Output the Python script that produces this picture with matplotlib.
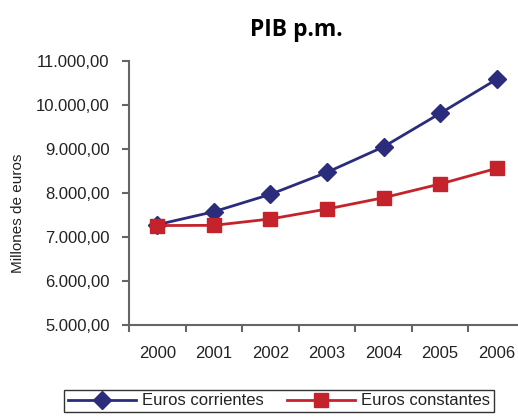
import matplotlib.pyplot as plt
import numpy as np

years = ['2000', '2001', '2002', '2003', '2004', '2005', '2006']
corrientes = [7280, 7575, 7970, 8470, 9050, 9810, 10585]
constantes = [7260, 7265, 7410, 7636, 7893, 8205, 8560]
yticks = [5000, 6000, 7000, 8000, 9000, 10000, 11000]

plt.rcParams['font.family'] = ['Liberation Sans', 'DejaVu Sans']
txt = '#222222'

fig = plt.figure(figsize=(5.18, 4.19), dpi=100)
# axes extends a bit past the right edge, as in the original crop
ax = fig.add_axes([129 / 518, 94 / 419, 396 / 518, 264 / 419])

x = np.arange(len(years))
ax.plot(x, corrientes, color='#2b2c7c', lw=2, marker='D', ms=9.5,
        label='Euros corrientes', clip_on=False, zorder=3)
ax.plot(x, constantes, color='#c4232b', lw=2, marker='s', ms=10,
        label='Euros constantes', clip_on=False, zorder=3)

ax.set_xlim(-0.5, len(years) - 0.5)
ax.set_ylim(5000, 11000)

# labels at category centres, tick marks at category boundaries
ax.set_xticks(x)
ax.set_xticklabels(years, fontsize=12, color=txt)
ax.set_xticks(np.arange(-0.5, len(years)), minor=True)
ax.tick_params(axis='x', which='major', length=0, pad=15)
ax.tick_params(axis='x', which='minor', length=5, width=1.5, color='#666666')

ax.set_yticks(yticks)
ax.set_yticklabels([f'{v:,.2f}'.replace(',', 'X').replace('.', ',').replace('X', '.')
                    for v in yticks], fontsize=12, color=txt)
ax.tick_params(axis='y', length=5, width=1.5, color='#666666', pad=9)

for s in ['top', 'right']:
    ax.spines[s].set_visible(False)
for s in ['left', 'bottom']:
    ax.spines[s].set_color('#666666')
    ax.spines[s].set_linewidth(1.5)

ax.set_ylabel('Millones de euros', fontsize=11, color=txt)
ax.yaxis.set_label_coords(-0.263, 0.424)

fig.text(296 / 518, 1 - 30 / 419, 'PIB p.m.', ha='center', va='center',
         fontsize=16.5, fontweight='bold', family=['Open Sans', 'DejaVu Sans'])

leg = fig.legend(loc='upper center', bbox_to_anchor=(279 / 518, 1 - 390 / 419),
                 ncol=2, fontsize=12, handlelength=4.1, frameon=True,
                 fancybox=False, edgecolor='black', columnspacing=1.4,
                 handletextpad=0.35, borderpad=0.2, borderaxespad=0)
for t in leg.get_texts():
    t.set_color(txt)
leg.get_frame().set_linewidth(1.0)

fig.savefig('out.png', dpi=100)
